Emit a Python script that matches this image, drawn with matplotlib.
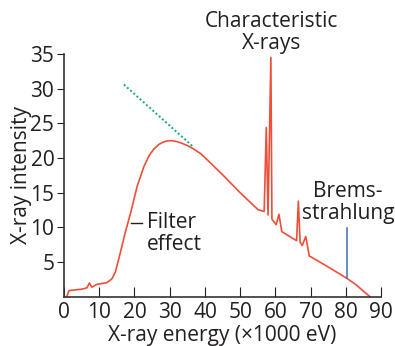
import matplotlib
matplotlib.use('Agg')
from matplotlib import pyplot as plt

plt.rcParams['font.family'] = ['Open Sans', 'DejaVu Sans']

# spectrum
energy = [0.8, 1.4, 3, 5, 6.5, 7.2, 7.9, 9.3, 12.2, 13.6, 14.6, 16, 17.4, 18.9,
          20.8, 22.7, 24.2, 25.5, 27.0, 28.4, 29.6, 30.8, 32.2, 33.6, 35.0, 36.5,
          38.9, 45, 50, 55.1, 56.8,
          57.4, 57.9, 58.7, 59.0, 60.2, 61.0, 61.8, 66.0, 66.5, 67.0, 67.6,
          68.6, 69.6, 75, 80.3, 83, 85, 86.9]
intensity = [0, 0.9, 1.0, 1.1, 1.3, 2.0, 1.4, 1.8, 2.05, 2.6, 3.6, 6.4, 9.3, 12.1,
             16.0, 18.8, 20.4, 21.3, 22.0, 22.35, 22.5, 22.5, 22.35, 22.1, 21.8, 21.4,
             20.6, 17.6, 15.0, 12.55, 12.3,
             24.4, 11.8, 34.5, 11.2, 10.4, 11.9, 9.4, 8.1, 13.8, 7.9, 7.4,
             8.7, 5.9, 4.3, 2.66, 1.7, 0.8, 0]

# dotted extrapolation of the bremsstrahlung line
extrap_x = [17, 36.5]
extrap_y = [30.6, 21.7]

xticks = [0, 10, 20, 30, 40, 50, 60, 70, 80, 90]
yticks = [5, 10, 15, 20, 25, 30, 35]

txt = '#231f20'
red = '#f04e37'
fs = 15

fig = plt.figure(figsize=(3.95, 3.46), dpi=100)
ax = fig.add_axes([0.162, 0.142, 0.803, 0.702])

ax.plot(energy, intensity, color=red, lw=1.2, clip_on=False)
ax.plot(extrap_x, extrap_y, color='#19a77c', lw=1.4, ls=(0, (1, 1.2)))

# annotations
ax.plot([18.9, 22.2], [10.7, 10.7], color=txt, lw=1)
ax.text(23.6, 9.1, 'Filter\neffect', fontsize=fs, color=txt, va='center', ha='left',
        linespacing=1.05)
ax.plot([80.3, 80.3], [2.66, 9.9], color='#3a6fb5', lw=1.1)
ax.text(80.6, 13.6, 'Brems-\nstrahlung', fontsize=fs, color=txt, va='center', ha='center',
        linespacing=1.05)
ax.text(59, 38.1, 'Characteristic\nX-rays', fontsize=fs, color=txt, va='center', ha='center',
        linespacing=1.05, clip_on=False)

ax.set_xlim(0, 90)
ax.set_ylim(0, 35)
ax.set_xticks(xticks)
ax.set_yticks(yticks)
ax.tick_params(axis='x', direction='in', length=7, labelsize=fs, colors=txt, pad=4)
ax.tick_params(axis='y', direction='out', length=5, labelsize=fs, colors=txt, pad=2)
for s in ['top', 'right']:
    ax.spines[s].set_visible(False)
for s in ['left', 'bottom']:
    ax.spines[s].set_color('#333333')
    ax.spines[s].set_linewidth(1.2)

ax.set_xlabel('X-ray energy (\u00d71000 eV)', fontsize=fs, color=txt, labelpad=1)
ax.set_ylabel('X-ray intensity', fontsize=fs, color=txt, labelpad=-1)

plt.savefig('out.png', dpi=100)
